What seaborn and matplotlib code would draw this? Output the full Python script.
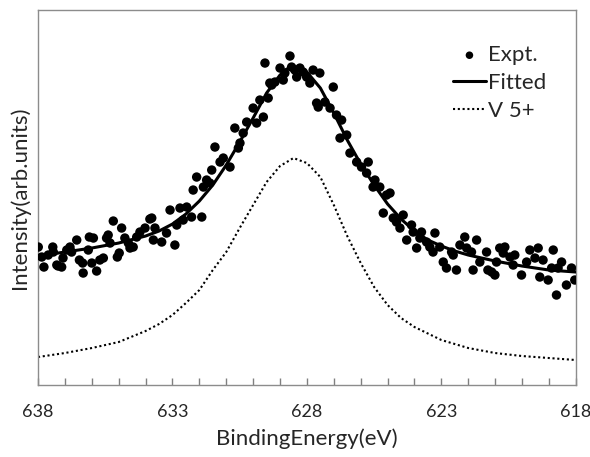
import numpy as np
import pandas as pd
import matplotlib
matplotlib.use('Agg')
import matplotlib.pyplot as plt
import seaborn as sns
from matplotlib.ticker import FixedLocator, MultipleLocator

# ---------------- data ----------------
expt_energy = [637.99, 637.86, 637.78, 637.62, 637.45, 637.43, 637.30, 637.25, 637.12, 637.07,
               636.93, 636.81, 636.75, 636.56, 636.46, 636.34, 636.32, 636.13, 636.09, 636.00,
               635.94, 635.82, 635.70, 635.57, 635.45, 635.39, 635.32, 635.20, 635.05, 634.98,
               634.89, 634.77, 634.64, 634.58, 634.46, 634.33, 634.21, 634.02, 633.84, 633.77,
               633.71, 633.65, 633.40, 633.22, 633.09, 632.91, 632.84, 632.72, 632.60, 632.47,
               632.29, 632.23, 632.10, 631.91, 631.85, 631.73, 631.61, 631.54, 631.42, 631.23,
               631.11, 630.86, 630.68, 630.55, 630.49, 630.37, 630.24, 630.00, 629.87, 629.75,
               629.62, 629.56, 629.44, 629.38, 629.31, 629.19, 629.00, 628.88, 628.82, 628.63,
               628.57, 628.45, 628.38, 628.26, 628.14, 628.01, 627.89, 627.77, 627.64, 627.58,
               627.52, 627.33, 627.14, 627.02, 626.90, 626.77, 626.71, 626.52, 626.40, 626.15,
               625.97, 625.78, 625.72, 625.54, 625.47, 625.29, 625.16, 625.04, 624.91, 624.79,
               624.67, 624.54, 624.42, 624.29, 624.11, 624.05, 623.92, 623.80, 623.74, 623.55,
               623.43, 623.31, 623.24, 623.06, 622.93, 622.81, 622.62, 622.56, 622.44, 622.31,
               622.13, 622.06, 621.88, 621.82, 621.69, 621.57, 621.32, 621.27, 621.13, 621.01,
               620.95, 620.83, 620.70, 620.64, 620.45, 620.33, 620.27, 620.02, 619.83, 619.71,
               619.52, 619.40, 619.34, 619.22, 619.03, 618.90, 618.84, 618.72, 618.66, 618.53,
               618.35, 618.16, 618.04]
expt_intensity = [138, 128, 118, 130, 138, 133, 120, 119, 118, 127,
                  135, 138, 133, 145, 125, 122, 112, 135, 148, 122,
                  147, 114, 125, 127, 147, 150, 142, 164, 128, 132,
                  157, 147, 142, 137, 138, 148, 153, 157, 166, 167,
                  145, 157, 143, 152, 175, 140, 160, 177, 165, 178,
                  168, 195, 208, 168, 198, 205, 202, 215, 238, 223,
                  227, 218, 257, 237, 242, 252, 263, 277, 262, 285,
                  268, 322, 287, 302, 300, 303, 317, 305, 312, 329,
                  318, 315, 308, 317, 313, 308, 302, 315, 282, 278,
                  312, 283, 277, 298, 270, 247, 265, 250, 232, 223,
                  218, 212, 223, 198, 205, 198, 172, 190, 192, 167,
                  163, 157, 170, 145, 160, 153, 137, 147, 153, 143,
                  138, 133, 152, 138, 123, 117, 133, 130, 115, 140,
                  148, 137, 133, 115, 145, 123, 133, 115, 113, 110,
                  123, 137, 132, 138, 128, 120, 130, 110, 123, 135,
                  127, 137, 108, 125, 105, 117, 135, 90, 117, 123,
                  100, 117, 105]

fit_energy = [638.0, 637.0, 636.0, 635.0, 634.0, 633.5, 633.0, 632.5, 632.0, 631.5,
              631.0, 630.5, 630.0, 629.5, 629.0, 628.75, 628.5, 628.25, 628.0, 627.5,
              627.0, 626.5, 626.0, 625.5, 625.0, 624.5, 624.0, 623.5, 623.0, 622.5,
              622.0, 621.0, 620.0, 619.0, 618.0]
fit_intensity = [129, 133, 137, 142, 149, 154, 161, 171, 184, 200,
                 220, 243, 267, 292, 310, 316, 318, 317, 313, 297,
                 272, 245, 221, 200, 181, 166, 154, 145, 139, 134,
                 130, 124, 119, 115, 113]

v5_energy = [638.0, 637.0, 636.0, 635.0, 634.0, 633.5, 633.0, 632.5, 632.0, 631.5,
             631.0, 630.5, 630.0, 629.5, 629.0, 628.5, 628.0, 627.5, 627.0, 626.5,
             626.0, 625.5, 625.0, 624.5, 624.0, 623.0, 622.0, 621.0, 620.0, 619.0,
             618.0]
v5_intensity = [28, 32, 37, 43, 54, 61, 70, 82, 95, 115,
                133, 157, 180, 203, 219, 227, 222, 208, 180, 149,
                122, 98, 80, 67, 58, 45, 37, 32, 29, 27,
                25]

tick_values = [638, 633, 628, 623, 618]
tick_labels = ['638', '633', '628', '623', '618']

expt = pd.DataFrame({'energy': expt_energy, 'intensity': expt_intensity})
fit = pd.DataFrame({'energy': fit_energy, 'intensity': fit_intensity})
v5 = pd.DataFrame({'energy': v5_energy, 'intensity': v5_intensity})

# ---------------- style ----------------
sns.set_style('white')
plt.rcParams['font.family'] = ['Lato', 'DejaVu Sans']

fig = plt.figure(figsize=(5.9, 4.57), dpi=100)
ax = fig.add_axes([0.0644, 0.1575, 0.9116, 0.8205])

sns.scatterplot(data=expt, x='energy', y='intensity', ax=ax, color='black',
                s=46, edgecolor='none', linewidth=0, label='Expt.', zorder=3)
sns.lineplot(data=fit, x='energy', y='intensity', ax=ax, color='black',
             linewidth=2.2, estimator=None, sort=False, label='Fitted', zorder=4)
sns.lineplot(data=v5, x='energy', y='intensity', ax=ax, color='black',
             linewidth=1.5, estimator=None, sort=False, label='V 5+',
             linestyle=(0, (1, 1.3)), zorder=2)

ax.set_xlim(638, 618)
ax.set_ylim(0, 375)
ax.set_yticks([])
ax.xaxis.set_major_locator(FixedLocator(tick_values))
ax.set_xticklabels(tick_labels)
ax.xaxis.set_minor_locator(MultipleLocator(1))
ax.tick_params(axis='x', which='both', direction='in', length=5, width=1,
               color='#808080', bottom=True, top=False, labelsize=13, pad=14)

for sp in ax.spines.values():
    sp.set_color('#8c8c8c')
    sp.set_linewidth(1)

ax.set_xlabel('BindingEnergy(eV)', fontsize=16, labelpad=6)
ax.set_ylabel('Intensity(arb.units)', fontsize=16, labelpad=6)

leg = ax.legend(loc='upper left', bbox_to_anchor=(0.734, 0.96), frameon=False,
                fontsize=16, handlelength=1.5, handletextpad=0.1,
                labelspacing=0.35, borderpad=0.4, markerscale=0.8)

fig.savefig('out.png', dpi=100)
